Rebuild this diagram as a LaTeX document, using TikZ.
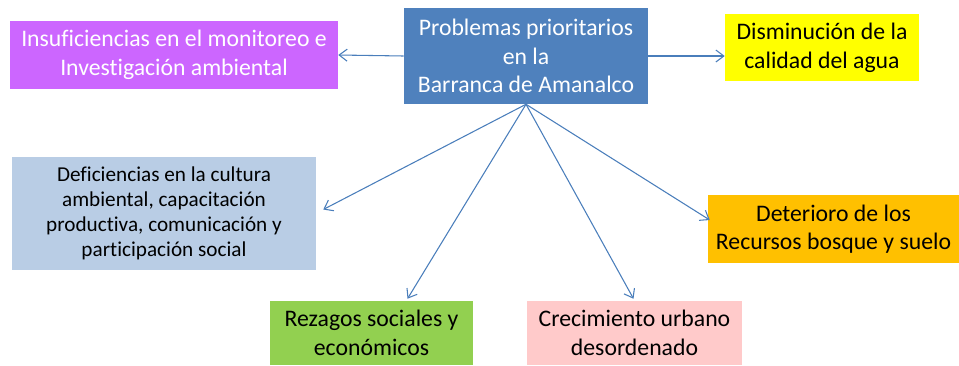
\documentclass[tikz,border=0pt]{standalone}
\usepackage{fontspec}
\setmainfont[Ligatures=NoCommon]{Carlito}
\usepackage{tikz}
\usetikzlibrary{arrows.meta, positioning, calc}
\definecolor{prob-blue}{HTML}{4F81BD}
\definecolor{prob-line}{HTML}{4A7EBB}
\definecolor{prob-purple}{HTML}{CC66FF}
\definecolor{prob-yellow}{HTML}{FFFF00}
\definecolor{prob-sky}{HTML}{B9CDE5}
\definecolor{prob-green}{HTML}{92D050}
\definecolor{prob-pink}{HTML}{FFCACA}
\definecolor{prob-orange}{HTML}{FFC000}

\begin{document}
\begin{tikzpicture}[
    x=0.75pt, y=-0.75pt,
    box/.style={rectangle, inner sep=0pt, align=center, text=black, font=\fontsize{17.8}{21.5}\selectfont},
    centralbox/.style={box, fill=prob-blue, text=white, minimum width=183pt, minimum height=72pt},
    purplebox/.style={box, fill=prob-purple, text=white, minimum width=246pt, minimum height=51pt},
    yellowbox/.style={box, fill=prob-yellow, minimum width=145.5pt, minimum height=50.25pt},
    skybox/.style={box, fill=prob-sky, minimum width=228pt, minimum height=84.75pt, font=\fontsize{15.9}{18.6}\selectfont},
    greenbox/.style={box, fill=prob-green, minimum width=152.25pt, minimum height=48pt},
    pinkbox/.style={box, fill=prob-pink, minimum width=161.25pt, minimum height=48pt},
    orangebox/.style={box, fill=prob-orange, minimum width=188.25pt, minimum height=51pt},
    arrow/.style={-{Straight Barb[length=6pt, width=9pt]}, draw=prob-line, line width=0.8pt}
]
\useasboundingbox (0,0) rectangle (959,365);

% Central problem
\node[centralbox] (prob) at (526,56) {Problemas prioritarios\\en la\\Barranca de Amanalco};

% Top row
\node[purplebox] (insuf) at (174,55) {Insuficiencias en el monitoreo e\\Investigación ambiental};
\node[yellowbox] (agua) at (822,47.5) {Disminución de la\\calidad del agua};

% Middle row
\node[skybox] (cultura) at (164,213.5) {Deficiencias en la cultura\\ambiental, capacitación\\productiva, comunicación y\\participación social};
\node[orangebox] (bosque) at (833.5,229) {Deterioro de los\\Recursos bosque y suelo};

% Bottom row
\node[greenbox] (rezagos) at (371.5,333) {Rezagos sociales y\\económicos};
\node[pinkbox] (urbano) at (634.5,333) {Crecimiento urbano\\desordenado};

% Arrows
\draw[arrow] (prob.west) -- (insuf.east);
\draw[arrow] (prob.east) -- (prob.east -| agua.west);
\draw[arrow] (prob.south) -- ($(cultura.east)+(7,-4)$);
\draw[arrow] (prob.south) -- ($(rezagos.north)+(36,-2)$);
\draw[arrow] (prob.south) -- ($(urbano.north)+(-1,-2)$);
\draw[arrow] (prob.south) -- ($(bosque.west)+(2,-9)$);

\end{tikzpicture}
\end{document}
